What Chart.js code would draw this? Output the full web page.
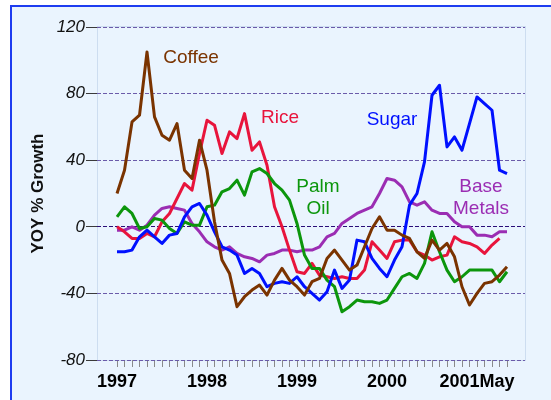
<!DOCTYPE html>
<html>
<head>
<meta charset="utf-8">
<script src="https://cdn.jsdelivr.net/npm/chart.js@4/dist/chart.umd.min.js"></script>
<style>
  html, body { margin: 0; padding: 0; background: #ffffff; }
  canvas { display: block; }
</style>
</head>
<body>
<canvas id="chart" width="551" height="400"></canvas>
<script>
// Monthly observations, January 1997 through May 2001
const months = [
  '1997-01','1997-02','1997-03','1997-04','1997-05','1997-06','1997-07','1997-08','1997-09','1997-10','1997-11','1997-12',
  '1998-01','1998-02','1998-03','1998-04','1998-05','1998-06','1998-07','1998-08','1998-09','1998-10','1998-11','1998-12',
  '1999-01','1999-02','1999-03','1999-04','1999-05','1999-06','1999-07','1999-08','1999-09','1999-10','1999-11','1999-12',
  '2000-01','2000-02','2000-03','2000-04','2000-05','2000-06','2000-07','2000-08','2000-09','2000-10','2000-11','2000-12',
  '2001-01','2001-02','2001-03','2001-04','2001-05'
];

// Year-on-year % growth by commodity
const coffee = [20,34,63,67,105,66,55,52,62,34,29,52,34,3,-20,-28,-48,-42,-38,-35,-41,-32,-25,-32,-36,-41,-33,-31,-19,-14,-20,-26,-23,-12,-1,6,-2,-2,-5,-7,-15,-19,-8,-14,-10,-18,-36,-47,-40,-34,-33,-29,-24];
const rice = [0,-3,-7,-7,-4,-6,3,8,17,26,22,44,64,61,44,57,53,68,46,51,37,12,0,-14,-27,-28,-22,-29,-30,-31,-30,-31,-31,-26,-9,-14,-19,-9,-8,-8,-15,-17,-20,-18,-17,-6,-9,-10,-12,-16,-11,-7,null];
const sugar = [-15,-15,-14,-6,-2,-6,-10,-5,-4,6,12,14,7,-3,-12,-14,-17,-28,-25,-28,-36,-34,-33,-34,-30,-36,-40,-44,-39,-26,-37,-32,-8,-9,-19,-25,-30,-20,-12,13,20,39,79,85,48,54,46,62,78,74,70,34,32];
const palmOil = [6,12,8,-1,0,5,4,-1,-4,3,1,1,12,13,21,23,28,19,33,35,32,26,22,16,2,-17,-25,-25,-32,-36,-51,-48,-44,-45,-45,-46,-44,-37,-30,-28,-31,-22,-3,-15,-26,-33,-30,-26,-26,-26,-26,-33,-27];
const baseMetals = [-2,-2,0,-2,1,7,11,12,11,10,2,-3,-9,-12,-14,-12,-16,-18,-19,-21,-17,-16,-14,-14,-15,-14,-14,-12,-6,-4,2,5,8,10,12,20,29,28,24,15,13,15,10,8,8,3,0,0,-5,-5,-6,-3,-3];

// Axis tick labels
const yTicks = [-80, -40, 0, 40, 80, 120];
const xTickIndex = [0, 12, 24, 36, 48];
const xTickText = ['1997', '1998', '1999', '2000', '2001May'];

// In-chart series names: month index, value of first baseline
const seriesNames = [['Coffee'], ['Rice'], ['Sugar'], ['Palm', 'Oil'], ['Base', 'Metals']];
const nameAtMonth = [9.87, 21.73, 36.67, 26.8, 48.53];
const nameAtValue = [98.2, 62.2, 61.0, 20.8, 20.8];

const FONT = "'Liberation Sans', Arial, Helvetica, sans-serif";
const colors = {
  coffee: '#7A3300',
  rice: '#E8143C',
  sugar: '#0010FF',
  palm: '#0C960C',
  metals: '#9B2DB3'
};
const nameColors = [colors.coffee, colors.rice, colors.sugar, colors.palm, colors.metals];

const toPoints = arr => arr.map((v, i) => ({ x: i, y: v }));

function series(label, values, color, order) {
  return {
    label,
    data: toPoints(values),
    borderColor: color,
    backgroundColor: color,
    borderWidth: 3,
    borderJoinStyle: 'round',
    pointRadius: 0,
    tension: 0,
    spanGaps: false,
    order
  };
}

// Panel background with a blue frame
const panelPlugin = {
  id: 'panel',
  beforeDraw(chart) {
    const { ctx, width, height, chartArea } = chart;
    ctx.save();
    ctx.fillStyle = '#ffffff';
    ctx.fillRect(0, 0, width, height);
    ctx.fillStyle = '#EAF4FE';
    ctx.fillRect(10, 5, width - 10, height - 5);
    ctx.strokeStyle = '#1E3CF0';
    ctx.lineWidth = 2;
    ctx.beginPath();
    ctx.moveTo(11, height + 2);
    ctx.lineTo(11, 6);
    ctx.lineTo(width + 2, 6);
    ctx.stroke();
    ctx.strokeStyle = 'rgba(185,205,230,0.6)';
    ctx.lineWidth = 1;
    ctx.strokeRect(chartArea.left + 0.5, chartArea.top - 0.5, chartArea.right - chartArea.left, chartArea.bottom - chartArea.top + 1);
    ctx.restore();
  }
};

// Series names written next to their lines
const namesPlugin = {
  id: 'seriesNames',
  afterDatasetsDraw(chart) {
    const { ctx, scales } = chart;
    ctx.save();
    ctx.font = '19px ' + FONT;
    ctx.textAlign = 'center';
    ctx.textBaseline = 'alphabetic';
    seriesNames.forEach((lines, k) => {
      const x = scales.x.getPixelForValue(nameAtMonth[k]);
      const y = scales.y.getPixelForValue(nameAtValue[k]);
      ctx.fillStyle = nameColors[k];
      lines.forEach((t, j) => ctx.fillText(t, x, y + j * 22));
    });
    ctx.restore();
  }
};

new Chart(document.getElementById('chart'), {
  type: 'line',
  data: {
    datasets: [
      series('Base Metals', baseMetals, colors.metals, 5),
      series('Palm Oil', palmOil, colors.palm, 3),
      series('Rice', rice, colors.rice, 4),
      series('Sugar', sugar, colors.sugar, 2),
      series('Coffee', coffee, colors.coffee, 1)
    ]
  },
  options: {
    responsive: false,
    animation: false,
    devicePixelRatio: 1,
    layout: { padding: { left: 0, top: 27, right: 26, bottom: 0 } },
    plugins: {
      legend: { display: false },
      tooltip: { enabled: false },
      title: { display: false }
    },
    scales: {
      x: {
        type: 'linear',
        min: -2.667,
        max: 54.4,
        afterBuildTicks(scale) {
          scale.ticks = months.map((m, i) => ({ value: i }));
        },
        afterFit(scale) { scale.height = 40; },
        grid: {
          display: true,
          drawOnChartArea: false,
          drawTicks: true,
          tickLength: 7,
          tickColor: '#8a8a8a',
          tickWidth: 1
        },
        border: { display: false },
        ticks: {
          autoSkip: false,
          maxRotation: 0,
          minRotation: 0,
          padding: 4,
          color: '#000000',
          font: { family: FONT, size: 18, weight: 'bold' },
          callback(value) {
            const k = xTickIndex.indexOf(value);
            return k >= 0 ? xTickText[k] : '';
          }
        }
      },
      y: {
        min: -80,
        max: 120,
        afterBuildTicks(scale) {
          scale.ticks = yTicks.map(v => ({ value: v }));
        },
        afterFit(scale) { scale.width = 97; },
        grid: {
          color: ctx => (ctx.tick && ctx.tick.value === 0) ? '#2A0E78' : '#6B5BAA',
          lineWidth: 1,
          drawTicks: true,
          tickLength: 11,
          tickColor: '#3a3a3a',
          tickBorderDash: []
        },
        border: { display: false, dash: [4, 2] },
        ticks: {
          padding: 1,
          color: '#111111',
          font: { family: FONT, size: 17, style: 'italic' }
        },
        title: {
          display: true,
          text: 'YOY % Growth',
          color: '#111111',
          font: { family: FONT, size: 17, weight: 'bold' },
          padding: { top: 28, bottom: 0 }
        }
      }
    }
  },
  plugins: [panelPlugin, namesPlugin]
});
</script>
</body>
</html>
